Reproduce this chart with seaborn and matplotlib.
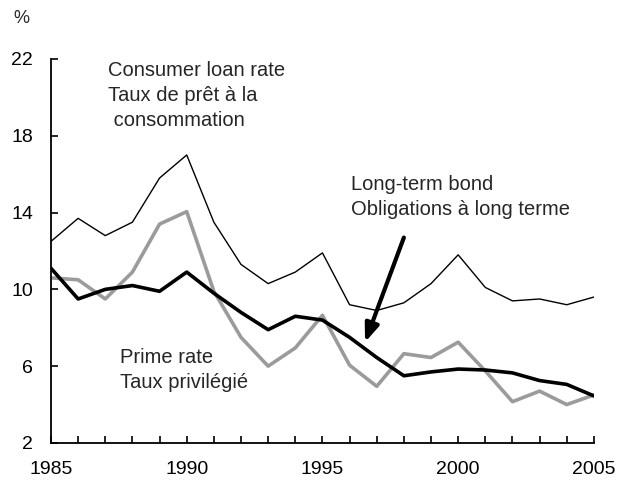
import numpy as np
import pandas as pd
import matplotlib
matplotlib.use("Agg")
import matplotlib.pyplot as plt
import seaborn as sns

years = list(range(1985, 2006))
consumer_loan = [12.5, 13.7, 12.8, 13.5, 15.8, 17.0, 13.5, 11.3, 10.3, 10.9, 11.9,
                 9.2, 8.9, 9.3, 10.3, 11.8, 10.1, 9.4, 9.5, 9.2, 9.6]
prime_rate = [11.1, 9.5, 10.0, 10.2, 9.9, 10.9, 9.8, 8.8, 7.9, 8.6, 8.4,
              7.5, 6.45, 5.5, 5.7, 5.85, 5.8, 5.65, 5.25, 5.05, 4.45]
long_bond = [10.6, 10.5, 9.5, 10.9, 13.4, 14.05, 9.9, 7.5, 6.0, 6.95, 8.65,
             6.05, 4.95, 6.65, 6.45, 7.25, 5.75, 4.15, 4.7, 4.0, 4.5]
y_ticks = [2, 6, 10, 14, 18, 22]
x_ticks = [1985, 1990, 1995, 2000, 2005]

df = pd.DataFrame({
    "year": years,
    "consumer": consumer_loan,
    "prime": prime_rate,
    "bond": long_bond,
})

sns.set_theme(style="ticks")
plt.rcParams["font.family"] = ["Liberation Sans", "DejaVu Sans"]

fig = plt.figure(figsize=(6.18, 4.82), dpi=100)
ax = fig.add_axes([0.0825, 0.081, 0.8785, 0.7966])

sns.lineplot(data=df, x="year", y="bond", ax=ax, color="#9b9b9b", lw=2.6)
sns.lineplot(data=df, x="year", y="prime", ax=ax, color="black", lw=2.6)
sns.lineplot(data=df, x="year", y="consumer", ax=ax, color="black", lw=1.0)

ax.set_xlim(1985, 2005)
ax.set_ylim(2, 22)
ax.set_xticks(years, minor=False)
ax.set_xticklabels([str(y) if y in x_ticks else "" for y in years])
ax.set_yticks(y_ticks)
ax.set_xlabel("")
ax.set_ylabel("")
for s in ["top", "right"]:
    ax.spines[s].set_visible(False)
for s in ["left", "bottom"]:
    ax.spines[s].set_linewidth(1.3)
    ax.spines[s].set_color("black")
ax.tick_params(axis="both", direction="in", length=5, width=1.2, colors="black",
               labelsize=14)
ax.tick_params(axis="x", pad=13)
ax.tick_params(axis="y", pad=13)

fig.text(0.021, 0.962, "%", fontsize=13, ha="left", va="center")

label_size = 14.5
ax.text(1987.1, 21.9, "Consumer loan rate\nTaux de prêt à la\n consommation",
        fontsize=label_size, ha="left", va="top", linespacing=1.4)
ax.text(1996.05, 15.95, "Long-term bond\nObligations à long terme",
        fontsize=label_size, ha="left", va="top", linespacing=1.4)
ax.text(1987.55, 6.95, "Prime rate\nTaux privilégié",
        fontsize=label_size, ha="left", va="top", linespacing=1.4)

ax.annotate("", xy=(1996.57, 7.25), xytext=(1998.0, 12.7),
            arrowprops=dict(arrowstyle="-|>,head_length=0.9,head_width=0.35",
                            color="black", lw=3, shrinkA=0, shrinkB=0))

fig.savefig("out.png", dpi=100)
